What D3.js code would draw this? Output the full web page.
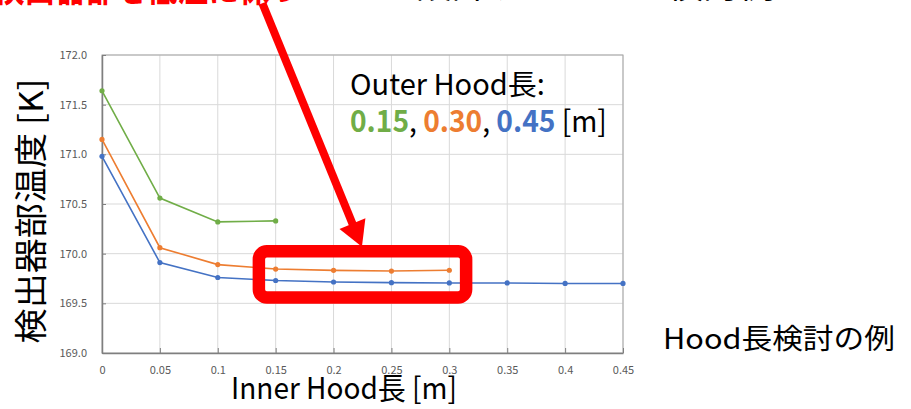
<!DOCTYPE html>
<html><head><meta charset="utf-8">
<script src="https://cdn.jsdelivr.net/npm/d3@7"></script>
<style>html,body{margin:0;padding:0;background:#fff;overflow:hidden}</style>
</head><body>
<svg id="c" width="911" height="409"></svg>
<script>
// ---- data ----
const innerHood = [0, 0.05, 0.1, 0.15, 0.2, 0.25, 0.3, 0.35, 0.4, 0.45];
const outer015 = [171.64, 170.56, 170.32, 170.33];
const outer030 = [171.15, 170.06, 169.89, 169.845, 169.832, 169.825, 169.833];
const outer045 = [170.98, 169.91, 169.76, 169.73, 169.715, 169.708, 169.705, 169.705, 169.70, 169.70];
const seriesNames = ["0.15", "0.30", "0.45"];
const seriesColors = ["#70ad47", "#ed7d31", "#4472c4"];
const xTicks = [0, 0.05, 0.1, 0.15, 0.2, 0.25, 0.3, 0.35, 0.4, 0.45];
const xTickLabels = ["0", "0.05", "0.1", "0.15", "0.2", "0.25", "0.3", "0.35", "0.4", "0.45"];
const yTicks = [169, 169.5, 170, 170.5, 171, 171.5, 172];
const yTickLabels = ["169.0", "169.5", "170.0", "170.5", "171.0", "171.5", "172.0"];
const xTitle = "Inner Hood長 [m]";
const yTitle = "検出器部温度 [K]";
const legendTitle = "Outer Hood長:";
const noteText = "Hood長検討の例";
const headRed = "検出器部を低温に保つ";
const headBlack = "ように設計するための検討例について";

const FONT = "'Noto Sans CJK JP', 'Noto Sans', sans-serif";
const svg = d3.select("#c");
const L = 102, R = 623, T = 55, B = 353;
const x = d3.scaleLinear().domain([0, 0.45]).range([L, R]);
const y = d3.scaleLinear().domain([169, 172]).range([B, T]);

// grid
const grid = svg.append("g");
grid.selectAll(".vg").data(xTicks.slice(1)).join("line")
  .attr("x1", d => x(d)).attr("x2", d => x(d)).attr("y1", T).attr("y2", B)
  .attr("stroke", "#d9d9d9").attr("stroke-width", 1);
grid.selectAll(".hg").data(yTicks.slice(1)).join("line")
  .attr("x1", L).attr("x2", R).attr("y1", d => y(d)).attr("y2", d => y(d))
  .attr("stroke", "#d9d9d9").attr("stroke-width", 1);
// frame
svg.append("rect").attr("x", L).attr("y", T).attr("width", R - L).attr("height", B - T)
  .attr("fill", "none").attr("stroke", "#a6a6a6").attr("stroke-width", 1);

// axes
const xAxis = d3.axisBottom(x).tickValues(xTicks).tickFormat((d, i) => xTickLabels[i])
  .tickSizeInner(-5).tickSizeOuter(0).tickPadding(13);
const gx = svg.append("g").attr("transform", `translate(0,${B})`).call(xAxis);
const yAxis = d3.axisLeft(y).tickValues(yTicks).tickFormat((d, i) => yTickLabels[i])
  .tickSizeInner(-4).tickSizeOuter(0).tickPadding(15);
const gy = svg.append("g").attr("transform", `translate(${L},0)`).call(yAxis);
[gx, gy].forEach(g => {
  g.select(".domain").attr("stroke", "#7f7f7f").attr("stroke-width", 1.5);
  g.selectAll(".tick line").attr("stroke", "#7f7f7f");
  g.selectAll(".tick text").attr("fill", "#595959").style("font-family", FONT).style("font-size", "11px");
});

// series
const series = [outer015, outer030, outer045];
series.forEach((vals, si) => {
  const pts = vals.map((v, i) => [innerHood[i], v]);
  svg.append("path").datum(pts)
    .attr("d", d3.line().x(d => x(d[0])).y(d => y(d[1])))
    .attr("fill", "none").attr("stroke", seriesColors[si]).attr("stroke-width", 1.6);
  svg.append("g").selectAll("circle").data(pts).join("circle")
    .attr("cx", d => x(d[0])).attr("cy", d => y(d[1])).attr("r", 2.6)
    .attr("fill", seriesColors[si]);
});

// helper: text fitted to a width
function fitText(parent, tx, ty, w, build, anchor, rot) {
  const g = parent.append("g").attr("transform", `translate(${tx},${ty})` + (rot ? ` rotate(${rot})` : ""));
  const t = g.append("text").attr("text-anchor", anchor || "start").style("font-family", FONT);
  build(t);
  const bb = t.node().getBBox();
  t.attr("transform", `scale(${w / bb.width},1)`);
  return t;
}

// legend
fitText(svg, 350, 95, 195, t => t.style("font-size", "29px").attr("fill", "#000").text(legendTitle));
fitText(svg, 350, 132, 257, t => {
  t.style("font-size", "30px");
  seriesNames.forEach((n, i) => {
    t.append("tspan").attr("fill", seriesColors[i]).style("font-weight", "bold").text(n);
    t.append("tspan").attr("fill", "#000").text(i < seriesNames.length - 1 ? ", " : " [m]");
  });
});

// titles
fitText(svg, 344, 399, 226, t => t.style("font-size", "30px").attr("fill", "#000").text(xTitle), "middle");
fitText(svg, 43, 211, 265, t => t.style("font-size", "33px").attr("fill", "#000").text(yTitle), "middle", -90);
fitText(svg, 663, 349, 232, t => t.style("font-size", "28px").attr("fill", "#000").text(noteText));

// header text cut off at the top
fitText(svg, -6, 1, 306, t => t.style("font-size", "40px").style("font-weight", "bold").attr("fill", "#ff0000").text(headRed));
fitText(svg, 308, -2, 610, t => t.style("font-size", "34px").attr("fill", "#000").text(headBlack));

// highlight box and arrow (annotation anchored via scales)
const bx0 = x(0.1355), bx1 = x(0.3145), by0 = y(170.024), by1 = y(169.559);
svg.append("rect").attr("x", bx0).attr("y", by0).attr("width", bx1 - bx0).attr("height", by1 - by0)
  .attr("rx", 8).attr("fill", "none").attr("stroke", "#ff0000").attr("stroke-width", 12.5);
const p0 = [x(0.1385), y(172.52)], tip = [x(0.2245), y(170.07)];
const dx = tip[0] - p0[0], dy = tip[1] - p0[1], len = Math.hypot(dx, dy);
const ux = dx / len, uy = dy / len, hl = 25, hw = 14;
const base = [tip[0] - ux * hl, tip[1] - uy * hl];
svg.append("line").attr("x1", p0[0]).attr("y1", p0[1]).attr("x2", base[0] + ux * 2).attr("y2", base[1] + uy * 2)
  .attr("stroke", "#ff0000").attr("stroke-width", 8);
svg.append("path").attr("d", `M${tip[0]},${tip[1]}L${base[0] + uy * hw},${base[1] - ux * hw}L${base[0] - uy * hw},${base[1] + ux * hw}Z`)
  .attr("fill", "#ff0000");
</script>
</body></html>
